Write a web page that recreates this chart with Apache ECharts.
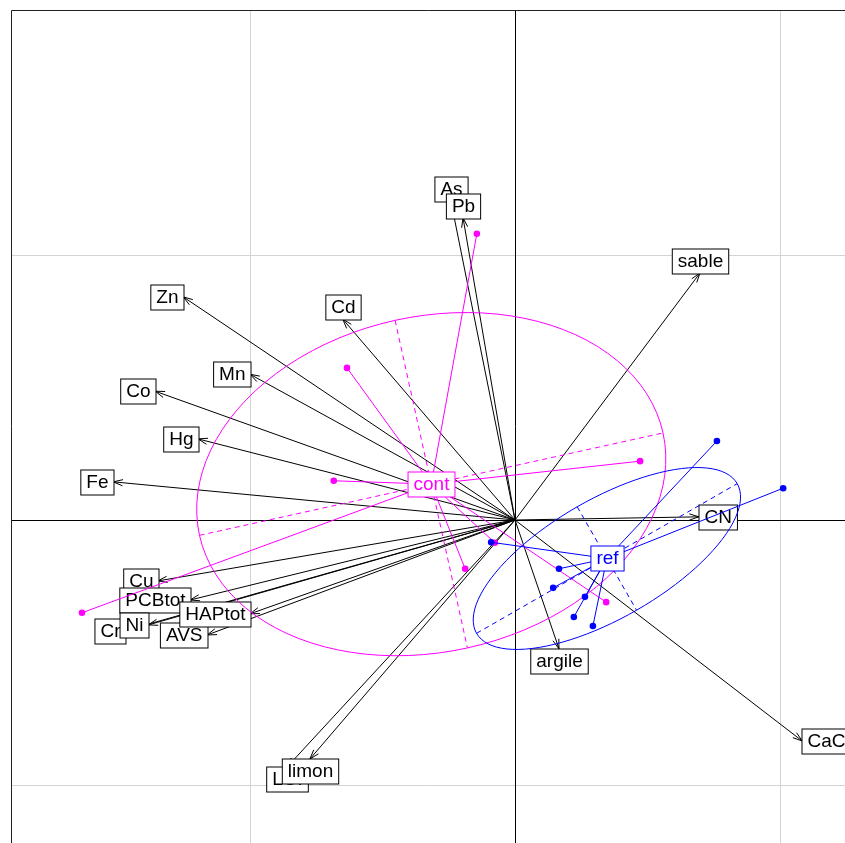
<!DOCTYPE html>
<html><head><meta charset="utf-8">
<script src="https://cdn.jsdelivr.net/npm/echarts@6/dist/echarts.min.js"></script>
<style>html,body{margin:0;padding:0;background:#fff}#c{width:845px;height:843px}</style>
</head><body><div id="c"></div>
<script>
// Variable arrows (correlation circle coordinates, d = 0.5 grid)
const varNames = ['As','Pb','sable','Zn','Cd','Mn','Co','Hg','Fe','CN','CaCO3','argile','LOI','limon','Cu','PCBtot','Cr','Ni','AVS','HAPtot'];
const varX = [-0.121,-0.098,0.349,-0.626,-0.325,-0.500,-0.679,-0.598,-0.758,0.347,0.542,0.083,-0.430,-0.387,-0.674,-0.613,-0.736,-0.692,-0.581,-0.500];
const varY = [0.602,0.570,0.466,0.421,0.379,0.275,0.243,0.153,0.072,0.006,-0.417,-0.243,-0.466,-0.451,-0.115,-0.151,-0.209,-0.198,-0.217,-0.177];

// Sites by class
const classNames = ['cont','ref'];
const classColors = ['#FF00FF','#0000FF'];
const contX = [-0.072,-0.317,0.236,-0.342,-0.817,-0.094,-0.038,0.172,-0.150];
const contY = [0.540,0.287,0.111,0.074,-0.175,-0.092,-0.043,-0.155,0.062];
const refX = [0.381,0.506,-0.045,0.083,0.072,0.132,0.111,0.147];
const refY = [0.149,0.060,-0.042,-0.092,-0.128,-0.145,-0.183,-0.200];

const gridTicks = [-0.5, 0.5];
const cellipse = 1.5;

const chart = echarts.init(document.getElementById('c'), null, {renderer:'canvas'});
const FONT = 'Liberation Sans, Arial, sans-serif';
const FS = 19;
const cr = v => Math.round(v) + 0.5;

function classStats(xs, ys){
  const n = xs.length;
  const mx = xs.reduce((a,b)=>a+b,0)/n, my = ys.reduce((a,b)=>a+b,0)/n;
  let vx=0, vy=0, cxy=0;
  for(let i=0;i<n;i++){vx+=(xs[i]-mx)**2; vy+=(ys[i]-my)**2; cxy+=(xs[i]-mx)*(ys[i]-my);}
  vx/=n; vy/=n; cxy/=n;
  const delta = Math.sqrt((vx-vy)**2+4*cxy*cxy);
  let l1 = (vx+vy+delta)/2, l2 = vx+vy-l1;
  l1 = Math.sqrt(Math.max(l1,0)); l2 = Math.sqrt(Math.max(l2,0));
  let a0=1, b0=(l1*l1-vx)/cxy; const nrm=Math.sqrt(a0*a0+b0*b0); a0/=nrm; b0/=nrm;
  const c11=cellipse*a0*l1, c12=-cellipse*b0*l2, c21=cellipse*b0*l1, c22=cellipse*a0*l2;
  const pts=[];
  for(let i=0;i<=100;i++){const t=2*Math.PI*i/100; pts.push([mx+c11*Math.cos(t)+c12*Math.sin(t), my+c21*Math.cos(t)+c22*Math.sin(t)]);}
  return {mx,my,pts,ax1:[[mx-c11,my-c21],[mx+c11,my+c21]],ax2:[[mx+c12,my+c22],[mx-c12,my-c22]]};
}
const classes = [classStats(contX,contY), classStats(refX,refY)];
const classXs = [contX, refX], classYs = [contY, refY];

const arrowData = varNames.map((n,i)=>[varX[i],varY[i],n]);

const L0=12, T0=10, OX=515, OY=520, S=530, W=845, H=843;
const XMIN=-(OX-L0)/S, XMAX=(W-OX)/S, YMAX=(OY-T0)/S, YMIN=-(H-OY)/S;

const series = [];
// grid lines
series.push({type:'custom', coordinateSystem:'cartesian2d', silent:true, z:1,
  data:gridTicks.map(v=>[v]),
  renderItem:(p,api)=>{
    const v=api.value(0);
    const a=api.coord([v,YMIN]), b=api.coord([v,YMAX]), c=api.coord([XMIN,v]), d=api.coord([XMAX,v]);
    return {type:'group',children:[
      {type:'line',shape:{x1:cr(a[0]),y1:a[1],x2:cr(b[0]),y2:b[1]},style:{stroke:'#d3d3d3',lineWidth:1}},
      {type:'line',shape:{x1:c[0],y1:cr(c[1]),x2:d[0],y2:cr(d[1])},style:{stroke:'#d3d3d3',lineWidth:1}}]};
  }});
// origin axes + frame (left and top visible)
series.push({type:'custom', coordinateSystem:'cartesian2d', silent:true, z:2,
  data:[[0]],
  renderItem:(p,api)=>{
    const a=api.coord([0,YMIN]), b=api.coord([0,YMAX]), c=api.coord([XMIN,0]), d=api.coord([XMAX,0]);
    const tl=api.coord([XMIN,YMAX]), bl=api.coord([XMIN,YMIN]), tr=api.coord([XMAX,YMAX]);
    return {type:'group',children:[
      {type:'line',shape:{x1:cr(a[0]),y1:a[1],x2:cr(b[0]),y2:b[1]},style:{stroke:'#000',lineWidth:1}},
      {type:'line',shape:{x1:c[0],y1:cr(c[1]),x2:d[0],y2:cr(d[1])},style:{stroke:'#000',lineWidth:1}},
      {type:'polyline',shape:{points:[[cr(bl[0]-1),bl[1]],[cr(tl[0]-1),cr(tl[1])],[tr[0],cr(tr[1])]]},style:{stroke:'#222',fill:null,lineWidth:1}}]};
  }});
// arrows
series.push({type:'custom', coordinateSystem:'cartesian2d', silent:true, z:3,
  data:arrowData,
  renderItem:(p,api)=>{
    const o=api.coord([0,0]), t=api.coord([api.value(0),api.value(1)]);
    const ang=Math.atan2(t[1]-o[1],t[0]-o[0]), L=10, a=Math.PI/10;
    const h1=[t[0]-L*Math.cos(ang-a),t[1]-L*Math.sin(ang-a)];
    const h2=[t[0]-L*Math.cos(ang+a),t[1]-L*Math.sin(ang+a)];
    return {type:'group',children:[
      {type:'line',shape:{x1:o[0],y1:o[1],x2:t[0],y2:t[1]},style:{stroke:'#000',lineWidth:1}},
      {type:'polyline',shape:{points:[h1,t,h2]},style:{stroke:'#000',fill:null,lineWidth:1}}]};
  }});
// arrow labels (ade4 eti.circ placement)
series.push({type:'custom', coordinateSystem:'cartesian2d', silent:true, z:4,
  data:arrowData,
  renderItem:(p,api)=>{
    const x=api.value(0), y=api.value(1);
    const t=api.coord([x,y]);
    let align='center', va='middle';
    if(x>y && x>-y){align='left';}
    else if(x>y && x<=-y){va='top';}
    else if(x<=y && x<=-y){align='right';}
    else {va='bottom';}
    return {type:'text', z2:p.dataIndex, style:{text:varNames[p.dataIndex], x:Math.round(t[0])+0.5, y:Math.round(t[1])+0.5, align:align, verticalAlign:va,
      font:FS+'px '+FONT, fill:'#000', backgroundColor:'#fff', borderColor:'#000', borderWidth:1, padding:[3,5,2,5], lineHeight:19}};
  }});
// class ellipses, axes, stars, points
classNames.forEach((cn,k)=>{
  const st=classes[k], col=classColors[k];
  const pts = classXs[k].map((v,i)=>[v,classYs[k][i]]);
  series.push({type:'custom', coordinateSystem:'cartesian2d', silent:true, z:5+k,
    data:[[st.mx,st.my]],
    renderItem:(p,api)=>{
      const c=api.coord([st.mx,st.my]);
      const ch=[];
      ch.push({type:'polyline',shape:{points:st.pts.map(q=>api.coord(q))},style:{stroke:col,fill:null,lineWidth:1}});
      [st.ax1,st.ax2].forEach(ax=>{const a=api.coord(ax[0]), b=api.coord(ax[1]);
        ch.push({type:'line',shape:{x1:a[0],y1:a[1],x2:b[0],y2:b[1]},style:{stroke:col,lineWidth:1,lineDash:[5,4]}});});
      pts.forEach(q=>{const b=api.coord(q);
        ch.push({type:'line',shape:{x1:c[0],y1:c[1],x2:b[0],y2:b[1]},style:{stroke:col,lineWidth:1}});});
      pts.forEach(q=>{const b=api.coord(q);
        ch.push({type:'circle',shape:{cx:b[0],cy:b[1],r:3.3},style:{fill:col}});});
      return {type:'group',children:ch};
    }});
});
// class labels
classNames.forEach((cn,k)=>{
  const st=classes[k], col=classColors[k];
  series.push({type:'custom', coordinateSystem:'cartesian2d', silent:true, z:8,
    data:[[st.mx,st.my]],
    renderItem:(p,api)=>{
      const c=api.coord([st.mx,st.my]);
      return {type:'text',style:{text:cn,x:Math.round(c[0])+0.5,y:Math.round(c[1])+0.5,align:'center',verticalAlign:'middle',font:FS+'px '+FONT,fill:col,
        backgroundColor:'#fff',borderColor:col,borderWidth:1,padding:[3,5,2,5],lineHeight:19}};
    }});
});

chart.setOption({
  animation:false,
  backgroundColor:'#fff',
  grid:{left:L0, top:T0, right:0, bottom:0, show:false},
  xAxis:{type:'value', min:XMIN, max:XMAX, show:false},
  yAxis:{type:'value', min:YMIN, max:YMAX, show:false},
  series:series
});
</script></body></html>
